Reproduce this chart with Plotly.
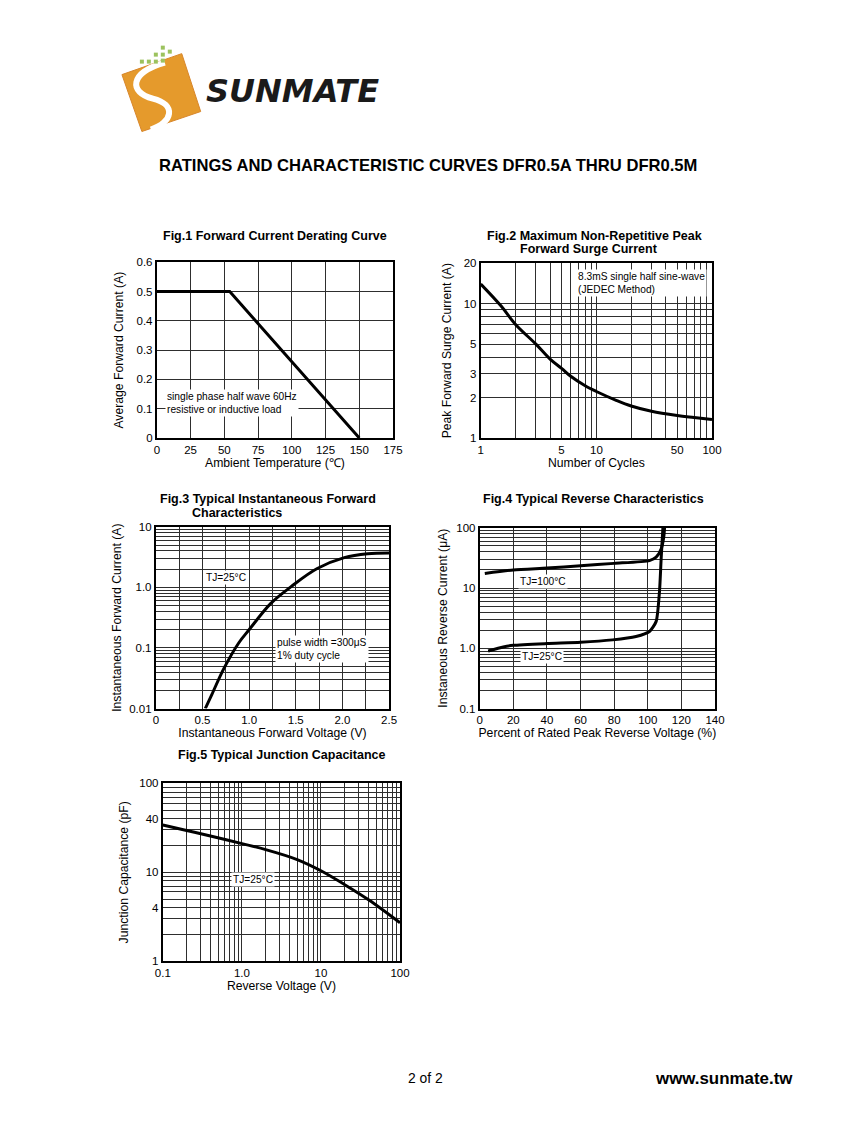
import plotly.graph_objects as go

W, H = 847, 1125
# measured page placement: rendered = A + S * figure_px
AX, SX = 14.7, 0.982
AY, SY = 13.3, 0.991

# ---------------- data ----------------
# Fig.1 derating
temp_c = [0, 54, 150]
avg_current = [0.5, 0.5, 0.0]
fig1_xticks = [0, 25, 50, 75, 100, 125, 150, 175]
fig1_yticks = [0, 0.1, 0.2, 0.3, 0.4, 0.5, 0.6]
fig1_ytext = ["0", "0.1", "0.2", "0.3", "0.4", "0.5", "0.6"]

# Fig.2 surge
cycles = [1, 1.5, 2, 3, 4, 5, 6, 8, 10, 15, 20, 30, 50, 70, 100]
surge_a = [14, 9.6, 7.0, 5.0, 3.85, 3.3, 2.88, 2.45, 2.22, 1.9, 1.73, 1.58, 1.47, 1.42, 1.37]
fig2_xticks = [1, 5, 10, 50, 100]
fig2_yticks = [1, 2, 3, 5, 10, 20]

# Fig.3 forward characteristics
vf = [0.53, 0.6, 0.73, 0.89, 1.0, 1.23, 1.45, 1.73, 2.02, 2.27, 2.5]
if_a = [0.01, 0.017, 0.046, 0.122, 0.2, 0.54, 1.03, 2.05, 3.1, 3.6, 3.7]
fig3_xticks = [0, 0.5, 1.0, 1.5, 2.0, 2.5]
fig3_xtext = ["0", "0.5", "1.0", "1.5", "2.0", "2.5"]
fig3_yticks = [0.01, 0.1, 1.0, 10]
fig3_ytext = ["0.01", "0.1", "1.0", "10"]

# Fig.4 reverse characteristics
pct_100 = [3, 20, 40, 60, 80, 101, 105, 108, 109.5, 110]
ir_100 = [17.5, 20, 21.5, 23.5, 25.7, 28.6, 32.6, 45, 70, 100]
pct_25 = [5, 14, 20, 40, 60, 79, 93, 101, 105, 107, 108, 109]
ir_25 = [0.9, 1.05, 1.12, 1.2, 1.26, 1.38, 1.57, 1.9, 2.8, 9, 32, 100]
fig4_xticks = [0, 20, 40, 60, 80, 100, 120, 140]
fig4_yticks = [0.1, 1.0, 10, 100]
fig4_ytext = ["0.1", "1.0", "10", "100"]

# Fig.5 capacitance
vr = [0.1, 0.2, 0.4, 1.0, 2.0, 5.0, 10, 20, 40, 100]
cj_pf = [34, 29.5, 25.6, 21, 18, 13.9, 10.4, 7.25, 4.9, 2.7]
fig5_xticks = [0.1, 1.0, 10, 100]
fig5_xtext = ["0.1", "1.0", "10", "100"]
fig5_yticks = [1, 4, 10, 40, 100]


def logminor(lo_exp, hi_exp):
    vals = []
    for e in range(lo_exp, hi_exp):
        for d in range(1, 10):
            vals.append(d * 10 ** e)
    vals.append(10 ** hi_exp)
    return vals


def px(x):
    return ((x - AX) / SX) / W


def py(y):
    return 1 - ((y - AY) / SY) / H


FONT = "Liberation Sans, Arial, sans-serif"
GRID = "#2e2e2e"

fig = go.Figure()

fig.add_trace(go.Scatter(x=temp_c, y=avg_current, mode="lines", line=dict(color="black", width=3),
                         xaxis="x", yaxis="y", showlegend=False))
fig.add_trace(go.Scatter(x=cycles, y=surge_a, mode="lines", line=dict(color="black", width=3, shape="spline"),
                         xaxis="x2", yaxis="y2", showlegend=False))
fig.add_trace(go.Scatter(x=vf, y=if_a, mode="lines", line=dict(color="black", width=3, shape="spline"),
                         xaxis="x3", yaxis="y3", showlegend=False))
fig.add_trace(go.Scatter(x=pct_100, y=ir_100, mode="lines", line=dict(color="black", width=3, shape="spline", smoothing=0.6),
                         xaxis="x4", yaxis="y4", showlegend=False))
fig.add_trace(go.Scatter(x=pct_25, y=ir_25, mode="lines", line=dict(color="black", width=3, shape="spline", smoothing=0.6),
                         xaxis="x4", yaxis="y4", showlegend=False))
fig.add_trace(go.Scatter(x=vr, y=cj_pf, mode="lines", line=dict(color="black", width=3, shape="spline"),
                         xaxis="x5", yaxis="y5", showlegend=False))


def ax(domain, anchor, title, standoff=3, **kw):
    d = dict(domain=domain, anchor=anchor, showline=True, linecolor="black", linewidth=2,
             mirror=True, ticks="", showgrid=True, gridcolor=GRID, gridwidth=1, zeroline=False,
             tickfont=dict(family=FONT, size=11.5, color="black"),
             title=dict(text=title, font=dict(family=FONT, size=12.2, color="black"), standoff=standoff),
             fixedrange=True)
    d.update(kw)
    return d


def mgrid(vals):
    return dict(tickmode="array", tickvals=vals, showgrid=True, gridcolor=GRID, gridwidth=1, ticks="")


boxes = {
    1: (156, 393, 262, 438),
    2: (481, 713, 263, 438),
    3: (155, 389, 527, 709),
    4: (480, 716, 528, 709),
    5: (162, 400, 784, 962),
}


def xd(i):
    b = boxes[i]
    return [px(b[0]), px(b[1])]


def yd(i):
    b = boxes[i]
    return [py(b[3]), py(b[2])]


layout = dict(
    width=W, height=H, margin=dict(l=0, r=0, t=0, b=0),
    paper_bgcolor="white", plot_bgcolor="white", showlegend=False,
    font=dict(family=FONT, color="black"),
)

layout["xaxis"] = ax(xd(1), "y", "Ambient Temperature (℃)", range=[0, 175], tickmode="array",
                     tickvals=fig1_xticks, ticktext=[str(v) for v in fig1_xticks])
layout["yaxis"] = ax(yd(1), "x", "Average Forward Current (A)", standoff=10, range=[0, 0.6], tickmode="array",
                     tickvals=fig1_yticks, ticktext=fig1_ytext)
layout["xaxis2"] = ax(xd(2), "y2", "Number of Cycles", type="log", range=[0, 2], tickmode="array",
                      tickvals=fig2_xticks, ticktext=[str(v) for v in fig2_xticks], minor=mgrid(logminor(0, 2)))
layout["yaxis2"] = ax(yd(2), "x2", "Peak Forward Surge Current (A)", standoff=9, type="log", range=[0, 1.30103], tickmode="array",
                      tickvals=fig2_yticks, ticktext=[str(v) for v in fig2_yticks], minor=mgrid([4, 6, 7, 8, 9]))
layout["xaxis3"] = ax(xd(3), "y3", "Instantaneous Forward Voltage (V)", range=[0, 2.5], tickmode="array",
                      tickvals=fig3_xticks, ticktext=fig3_xtext, minor=mgrid([0.25, 0.75, 1.25, 1.75, 2.25]))
layout["yaxis3"] = ax(yd(3), "x3", "Instantaneous Forward Current (A)", standoff=5, type="log", range=[-2, 1], tickmode="array",
                      tickvals=fig3_yticks, ticktext=fig3_ytext, minor=mgrid(logminor(-2, 1)))
layout["xaxis4"] = ax(xd(4), "y4", "Percent of Rated Peak Reverse Voltage (%)", range=[0, 140], tickmode="array",
                      tickvals=fig4_xticks, ticktext=[str(v) for v in fig4_xticks])
layout["yaxis4"] = ax(yd(4), "x4", "Instaneous Reverse Current (μA)", standoff=6, type="log", range=[-1, 2], tickmode="array",
                      tickvals=fig4_yticks, ticktext=fig4_ytext, minor=mgrid(logminor(-1, 2)))
layout["xaxis5"] = ax(xd(5), "y5", "Reverse Voltage (V)", type="log", range=[-1, 2], tickmode="array",
                      tickvals=fig5_xticks, ticktext=fig5_xtext, minor=mgrid(logminor(-1, 2)))
layout["yaxis5"] = ax(yd(5), "x5", "Junction Capacitance (pF)", standoff=8, type="log", range=[0, 2], tickmode="array",
                      tickvals=fig5_yticks, ticktext=[str(v) for v in fig5_yticks], minor=mgrid(logminor(0, 2)))

fig.update_layout(**layout)

annotations = []


def txt(x, y, text, size=11, bold=False, xanchor="left", bg=None, family=FONT, **kw):
    a = dict(xref="paper", yref="paper", x=px(x), y=py(y), text=text, showarrow=False,
             xanchor=xanchor, yanchor="middle", align="left",
             font=dict(family=family, size=size, color="black", weight="bold" if bold else "normal"))
    if bg:
        a.update(bgcolor=bg, borderpad=1)
    a.update(kw)
    annotations.append(a)


# Header
txt(428, 165, "RATINGS AND CHARACTERISTIC CURVES DFR0.5A THRU DFR0.5M", size=16.6, bold=True, xanchor="center")
annotations.append(dict(xref="paper", yref="paper", x=px(203), y=py(90), text="SUNMATE", showarrow=False,
                        xanchor="left", yanchor="middle",
                        font=dict(family="DejaVu Sans", size=32, color="#1a1a1a", weight="bold", style="italic")))

# Figure titles
TS = 12.5
txt(160, 236, "Fig.1 Forward Current Derating Curve", size=TS, bold=True)
txt(485, 236, "Fig.2 Maximum Non-Repetitive Peak", size=TS, bold=True)
txt(518, 249, "Forward Surge Current", size=TS, bold=True)
txt(157, 499, "Fig.3 Typical Instantaneous Forward", size=TS, bold=True)
txt(189, 513, "Characteristics", size=TS, bold=True)
txt(481, 499, "Fig.4 Typical Reverse Characteristics", size=TS, bold=True)
txt(175, 756, "Fig.5 Typical Junction Capacitance", size=TS, bold=True)

# In-plot notes
NS = 10.2
txt(164, 403, "single phase half wave 60Hz<br>resistive or inductive load", size=NS, bg="white")
txt(577, 283, "8.3mS single half sine-wave<br>(JEDEC Method)", size=NS, bg="white")
txt(203, 578, "TJ=25°C", size=NS, bg="white")
txt(275, 649, "pulse width =300μS<br>1% duty cycle", size=NS, bg="white")
txt(518, 582, "TJ=100°C", size=NS, bg="white")
txt(520, 657, "TJ=25°C", size=NS, bg="white")
txt(230, 880, "TJ=25°C", size=NS, bg="white")

# Footer
txt(426, 1079, "2 of 2", size=13.9, xanchor="center")
txt(796, 1080, "www.sunmate.tw", size=16.9, bold=True, xanchor="right")

fig.update_layout(annotations=annotations)


def pth(points):
    return "M " + " L ".join(f"{px(x)} {py(y)}" for x, y in points) + " Z"


shapes = []
shapes.append(dict(type="path", xref="paper", yref="paper",
                   path=pth([(121, 74), (181, 53), (200, 111), (141, 131)]),
                   fillcolor="#E59A2C", line=dict(color="#D8862A", width=1)))
shapes.append(dict(type="path", xref="paper", yref="paper",
                   path=f"M {px(164)} {py(62)} C {px(128)} {py(72)}, {px(128)} {py(92)}, {px(152)} {py(98)} "
                        f"C {px(176)} {py(104)}, {px(172)} {py(122)}, {px(150)} {py(129)}",
                   line=dict(color="white", width=6)))
for (gx, gy) in [(162, 47), (155, 54), (162, 54), (169, 51), (141, 61), (148, 61), (155, 61), (162, 60)]:
    shapes.append(dict(type="rect", xref="paper", yref="paper",
                       x0=px(gx - 2), x1=px(gx + 2), y0=py(gy + 2), y1=py(gy - 2),
                       fillcolor="#9CC25E", line=dict(width=0)))
fig.update_layout(shapes=shapes)

fig.write_html("out.html")
